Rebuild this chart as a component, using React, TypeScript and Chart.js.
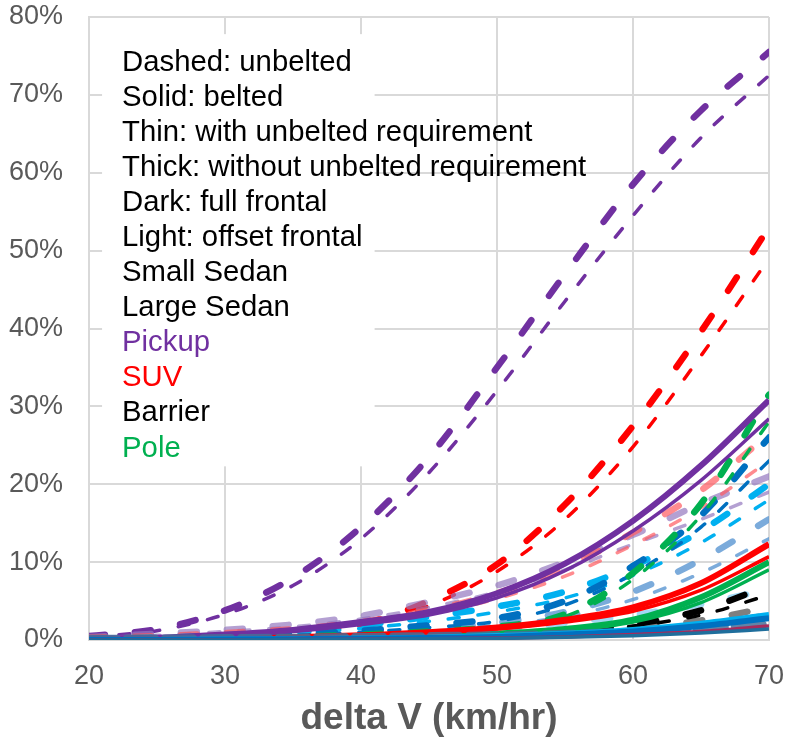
import React, { useEffect, useRef } from 'react';
import { Chart, registerables } from 'chart.js';

Chart.register(...registerables);

// ---- data (percent) ----
const DELTA_V = [20, 25, 30, 35, 40, 45, 50, 55, 60, 65, 70];

// Pickup (purple)
const PICKUP_FULL_UNBELTED_THICK = [0.5, 1.4, 3.8, 8, 14.5, 23.5, 35, 47, 58.5, 68, 75.5];
const PICKUP_FULL_UNBELTED_THIN = [0.4, 1.2, 3.3, 7, 13, 21.5, 32, 43.5, 54.5, 64.5, 72.5];
const PICKUP_OFFSET_UNBELTED_THICK = [0.4, 0.8, 1.3, 2, 3.1, 4.9, 7, 10, 13.5, 17.5, 21];
const PICKUP_OFFSET_UNBELTED_THIN = [0.3, 0.6, 1.1, 1.7, 2.7, 4.2, 6.2, 9, 12.3, 15.5, 19];
const PICKUP_BELTED_THICK = [0.2, 0.3, 0.7, 1.3, 2.3, 3.6, 6, 9.8, 15.3, 22.4, 30.8];
const PICKUP_BELTED_THIN = [0.2, 0.3, 0.6, 1.1, 2, 3.2, 5.4, 8.9, 14, 20.5, 28.4];

// SUV (red)
const SUV_FULL_UNBELTED_THICK = [0.2, 0.3, 0.5, 1, 2, 5, 9.7, 17.4, 27.5, 39.6, 53];
const SUV_FULL_UNBELTED_THIN = [0.2, 0.3, 0.5, 1, 1.9, 4.4, 8.8, 15.5, 24.8, 36.5, 49];
const SUV_OFFSET_UNBELTED_THICK = [0.3, 0.5, 0.9, 1.4, 2.3, 3.8, 6, 9.3, 13.8, 19.2, 26.5];
const SUV_OFFSET_UNBELTED_THIN = [0.2, 0.4, 0.8, 1.2, 2, 3.3, 5.3, 8.2, 12.2, 17, 23];
const SUV_BELTED_THICK = [0.05, 0.1, 0.2, 0.35, 0.6, 1, 1.6, 2.6, 4.2, 7.3, 12.3];
const SUV_BELTED_THIN = [0.05, 0.1, 0.2, 0.3, 0.5, 0.9, 1.4, 2.3, 3.7, 6.4, 10.7];

// Pole (green)
const POLE_UNBELTED_THICK = [0, 0.1, 0.2, 0.4, 0.7, 1.1, 1.7, 3.3, 8.6, 17.5, 31.5];
const POLE_UNBELTED_THIN = [0, 0.1, 0.2, 0.35, 0.6, 1, 1.5, 3, 7.8, 16, 28];
const POLE_BELTED_THICK = [0, 0.05, 0.1, 0.15, 0.3, 0.5, 0.8, 1.4, 2.6, 5.5, 10];
const POLE_BELTED_THIN = [0, 0.05, 0.1, 0.15, 0.25, 0.45, 0.7, 1.2, 2.3, 4.8, 9];

// Sedans (blues)
const SEDAN_A_UNBELTED_THICK = [0.05, 0.15, 0.35, 0.7, 1.2, 1.9, 2.8, 5, 9.5, 16, 26];
const SEDAN_A_UNBELTED_THIN = [0.05, 0.15, 0.3, 0.6, 1, 1.6, 2.4, 4.5, 8.5, 14.5, 23];
const SEDAN_B_UNBELTED_THICK = [0.1, 0.3, 0.6, 1.1, 1.9, 3, 4.3, 6.2, 9.5, 14, 20];
const SEDAN_B_UNBELTED_THIN = [0.1, 0.25, 0.5, 0.9, 1.5, 2.4, 3.6, 5.4, 8.3, 12.5, 18];
const SEDAN_OFFSET_UNBELTED_THICK = [0.05, 0.1, 0.25, 0.5, 0.9, 1.4, 2.2, 3.6, 6.2, 10.3, 15.5];
const SEDAN_OFFSET_UNBELTED_THIN = [0.05, 0.1, 0.2, 0.4, 0.7, 1.2, 1.9, 3, 5.2, 8.6, 13];
const SEDAN_PALE_UNBELTED = [0, 0.05, 0.15, 0.3, 0.5, 0.8, 1.3, 2.2, 3.2, 4.6, 6.5];
const SEDAN_BAND_UNBELTED = [0.15, 0.2, 0.25, 0.3, 0.4, 0.5, 0.6, 0.8, 1.1, 1.5, 2];
const SEDAN_A_BELTED = [0, 0, 0.05, 0.1, 0.15, 0.25, 0.4, 0.7, 1.1, 1.8, 2.8];
const SEDAN_B_BELTED = [0, 0, 0.05, 0.1, 0.2, 0.3, 0.5, 0.8, 1.3, 2.1, 3.2];
const SEDAN_C_BELTED = [0, 0, 0, 0.05, 0.1, 0.15, 0.2, 0.35, 0.55, 0.9, 1.4];
const SEDAN_D_BELTED = [0, 0, 0, 0.05, 0.1, 0.15, 0.25, 0.4, 0.7, 1.1, 1.8];

// Barrier (black / grey)
const BARRIER_UNBELTED_THICK = [0, 0, 0.05, 0.1, 0.2, 0.4, 0.7, 1.2, 2, 3.8, 7];
const BARRIER_UNBELTED_THIN = [0, 0, 0.05, 0.1, 0.15, 0.3, 0.55, 1, 1.8, 3.2, 5.8];
const BARRIER_OFFSET_THICK = [0, 0, 0.05, 0.1, 0.15, 0.3, 0.5, 0.9, 1.5, 2.5, 4.2];
const BARRIER_OFFSET_THIN = [0, 0, 0, 0.05, 0.1, 0.2, 0.4, 0.7, 1.2, 2, 3.4];

const NOTE_LINES = [
  'Dashed: unbelted',
  'Solid: belted',
  'Thin: with unbelted requirement',
  'Thick: without unbelted requirement',
  'Dark: full frontal',
  'Light: offset frontal',
  'Small Sedan',
  'Large Sedan',
  'Pickup',
  'SUV',
  'Barrier',
  'Pole',
];
const NOTE_COLORS = ['#000', '#000', '#000', '#000', '#000', '#000', '#000', '#000', '#7030A0', '#FF0000', '#000', '#00B050'];

// ---- styles ----
const THICK_DASH = [16, 30];
const THIN_DASH = [11, 19];
const W_THICK = 6.5;
const W_THIN = 3.5;
const W_SOLID_THICK = 6;
const W_SOLID_THIN = 3.5;

const PURPLE = '#7030A0';
const LIGHT_PURPLE = 'rgba(148,119,191,0.7)';
const RED = '#FF0000';
const SALMON = 'rgba(255,90,95,0.7)';
const GREEN = '#00B050';
const DARK_BLUE = '#0070C0';
const LIGHT_BLUE = '#00B0F0';
const STEEL = 'rgba(90,150,210,0.8)';
const PALE = 'rgba(120,200,240,0.7)';
const BAND = 'rgba(70,110,150,0.85)';
const BLACK = '#000000';
const GREY = '#7F7F7F';
const CRIMSON = '#A62A5C';
const TEAL = '#1F6E9C';

// drawn bottom first
const SERIES: { data: number[]; color: string; width: number; dash: number[] }[] = [
  { data: SUV_FULL_UNBELTED_THICK, color: RED, width: W_THICK, dash: THICK_DASH },
  { data: SUV_FULL_UNBELTED_THIN, color: RED, width: W_THIN, dash: THIN_DASH },
  { data: PICKUP_FULL_UNBELTED_THICK, color: PURPLE, width: W_THICK, dash: THICK_DASH },
  { data: PICKUP_FULL_UNBELTED_THIN, color: PURPLE, width: W_THIN, dash: THIN_DASH },
  { data: PICKUP_OFFSET_UNBELTED_THICK, color: LIGHT_PURPLE, width: W_THICK, dash: THICK_DASH },
  { data: PICKUP_OFFSET_UNBELTED_THIN, color: LIGHT_PURPLE, width: W_THIN, dash: THIN_DASH },
  { data: SUV_OFFSET_UNBELTED_THICK, color: SALMON, width: W_THICK, dash: THICK_DASH },
  { data: SUV_OFFSET_UNBELTED_THIN, color: SALMON, width: W_THIN, dash: THIN_DASH },
  { data: SEDAN_OFFSET_UNBELTED_THICK, color: STEEL, width: W_THICK, dash: THICK_DASH },
  { data: SEDAN_OFFSET_UNBELTED_THIN, color: STEEL, width: W_THIN, dash: THIN_DASH },
  { data: SEDAN_PALE_UNBELTED, color: PALE, width: W_THICK, dash: THICK_DASH },
  { data: SEDAN_B_UNBELTED_THICK, color: LIGHT_BLUE, width: W_THICK, dash: THICK_DASH },
  { data: SEDAN_B_UNBELTED_THIN, color: LIGHT_BLUE, width: W_THIN, dash: THIN_DASH },
  { data: SEDAN_A_UNBELTED_THICK, color: DARK_BLUE, width: W_THICK, dash: THICK_DASH },
  { data: SEDAN_A_UNBELTED_THIN, color: DARK_BLUE, width: W_THIN, dash: THIN_DASH },
  { data: POLE_UNBELTED_THICK, color: GREEN, width: W_THICK, dash: THICK_DASH },
  { data: POLE_UNBELTED_THIN, color: GREEN, width: W_THIN, dash: THIN_DASH },
  { data: BARRIER_OFFSET_THICK, color: GREY, width: W_THICK, dash: THICK_DASH },
  { data: BARRIER_OFFSET_THIN, color: GREY, width: W_THIN, dash: THIN_DASH },
  { data: BARRIER_UNBELTED_THICK, color: BLACK, width: W_THICK, dash: THICK_DASH },
  { data: BARRIER_UNBELTED_THIN, color: BLACK, width: W_THIN, dash: THIN_DASH },
  { data: POLE_BELTED_THICK, color: GREEN, width: W_SOLID_THICK, dash: [] },
  { data: POLE_BELTED_THIN, color: GREEN, width: W_SOLID_THIN, dash: [] },
  { data: SUV_BELTED_THICK, color: RED, width: W_SOLID_THICK, dash: [] },
  { data: SUV_BELTED_THIN, color: RED, width: W_SOLID_THIN, dash: [] },
  { data: PICKUP_BELTED_THICK, color: PURPLE, width: W_SOLID_THICK, dash: [] },
  { data: PICKUP_BELTED_THIN, color: PURPLE, width: W_SOLID_THIN, dash: [] },
  { data: SEDAN_BAND_UNBELTED, color: BAND, width: 8, dash: [28, 10] },
  { data: SEDAN_B_BELTED, color: LIGHT_BLUE, width: W_SOLID_THICK, dash: [] },
  { data: SEDAN_A_BELTED, color: DARK_BLUE, width: W_SOLID_THICK, dash: [] },
  { data: SEDAN_D_BELTED, color: CRIMSON, width: W_SOLID_THIN, dash: [] },
  { data: SEDAN_C_BELTED, color: TEAL, width: W_SOLID_THIN, dash: [] },
];

// note box placement in data units
const BOX_X = [20.96, 41.0];
const BOX_Y = [22.3, 77.8];
const NOTE_X = 22.43;
const NOTE_TOP = 74.1;
const NOTE_STEP = 4.5;

const FONT = '"Liberation Sans", Arial, sans-serif';
const AXIS_GREY = '#595959';
const GRID = '#D9D9D9';

const notePlugin = {
  id: 'noteBox',
  beforeDatasetsDraw(chart: any) {
    const { ctx, scales } = chart;
    const xs = scales.x;
    const ys = scales.y;
    const x0 = xs.getPixelForValue(BOX_X[0]);
    const x1 = xs.getPixelForValue(BOX_X[1]);
    const y0 = ys.getPixelForValue(BOX_Y[1]);
    const y1 = ys.getPixelForValue(BOX_Y[0]);
    ctx.save();
    ctx.fillStyle = '#ffffff';
    ctx.fillRect(x0, y0, x1 - x0, y1 - y0);
    ctx.font = `29.3px ${FONT}`;
    ctx.textBaseline = 'middle';
    ctx.textAlign = 'left';
    const tx = xs.getPixelForValue(NOTE_X);
    NOTE_LINES.forEach((t, i) => {
      ctx.fillStyle = NOTE_COLORS[i];
      ctx.fillText(t, tx, ys.getPixelForValue(NOTE_TOP - i * NOTE_STEP));
    });
    ctx.restore();
  },
};

export default function App() {
  const ref = useRef<HTMLCanvasElement>(null);

  useEffect(() => {
    if (!ref.current) return;
    const n = SERIES.length;
    const chart = new Chart(ref.current, {
      type: 'line',
      data: {
        datasets: SERIES.map((s, i) => ({
          data: DELTA_V.map((x, j) => ({ x, y: s.data[j] })),
          borderColor: s.color,
          backgroundColor: s.color,
          borderWidth: s.width,
          borderDash: s.dash,
          borderCapStyle: s.dash.length ? 'round' : 'butt',
          borderJoinStyle: 'round',
          pointRadius: 0,
          pointHoverRadius: 0,
          fill: false,
          cubicInterpolationMode: 'monotone',
          order: n - i,
        })),
      },
      options: {
        animation: false,
        responsive: true,
        maintainAspectRatio: false,
        layout: { padding: { left: 0, right: 17, top: 17, bottom: 0 } },
        plugins: { legend: { display: false }, tooltip: { enabled: false } },
        scales: {
          x: {
            type: 'linear',
            min: 20,
            max: 70,
            afterFit: (a: any) => {
              a.height = 101;
              a.paddingLeft = 0;
              a.paddingRight = 0;
            },
            ticks: {
              stepSize: 10,
              color: AXIS_GREY,
              font: { size: 27, family: FONT },
              padding: 20,
              maxRotation: 0,
            },
            grid: { color: GRID, lineWidth: 2, drawTicks: false },
            border: { color: GRID, width: 2 },
            title: {
              display: true,
              text: 'delta V (km/hr)',
              color: AXIS_GREY,
              font: { size: 37, weight: 'bold', family: FONT },
              padding: { top: 0, bottom: 0 },
            },
          },
          y: {
            min: 0,
            max: 80,
            afterFit: (a: any) => {
              a.width = 89;
              a.paddingTop = 0;
              a.paddingBottom = 0;
            },
            ticks: {
              stepSize: 10,
              color: AXIS_GREY,
              font: { size: 27, family: FONT },
              padding: 26,
              callback: (v: any) => `${v}%`,
            },
            grid: { color: GRID, lineWidth: 2, drawTicks: false },
            border: { color: GRID, width: 2 },
          },
        },
      },
      plugins: [notePlugin],
    });
    return () => chart.destroy();
  }, []);

  return (
    <div style={{ position: 'fixed', left: 0, top: 0, width: 786, height: 741, background: '#fff' }}>
      <canvas ref={ref} />
    </div>
  );
}
